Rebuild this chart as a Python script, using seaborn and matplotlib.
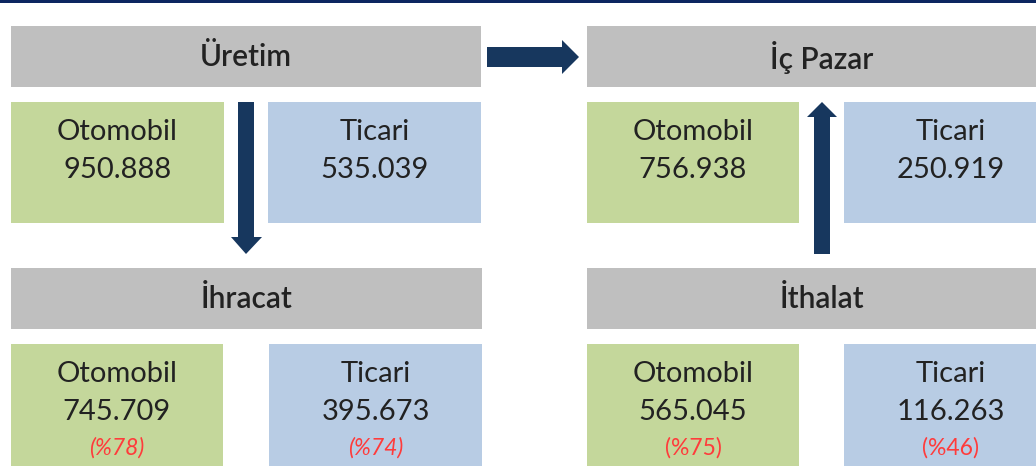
import matplotlib.pyplot as plt
import seaborn as sns
from matplotlib.patches import Rectangle, Polygon

# Data
sections = ['Üretim', 'İç Pazar', 'İhracat', 'İthalat']
categories = ['Otomobil', 'Ticari']
otomobil = [950888, 756938, 745709, 565045]
ticari = [535039, 250919, 395673, 116263]
otomobil_share = [None, None, 78, 75]
ticari_share = [None, None, 74, 46]

sns.set_theme(style='white')
plt.rcParams['font.family'] = ['Lato', 'DejaVu Sans']

GRAY = '#bfbfbf'
GREEN = '#c4d79b'
BLUE = '#b8cce4'
NAVY = '#17375e'
RED = '#ff3b3b'
TXT = '#222222'


def fmt(v):
    return f'{v:,}'.replace(',', '.')


fig = plt.figure(figsize=(10.36, 4.67), dpi=100)
ax = fig.add_axes([0, 0, 1, 1])
ax.set_xlim(0, 1036)
ax.set_ylim(467, 0)
ax.axis('off')

# top rule
ax.add_patch(Rectangle((0, 0), 1036, 3, color='#0c2660', lw=0))

# layout: (x0 of block, header top, box top, box bottom, green right, blue left, block right)
blocks = [
    (11, 26, 102, 223, 224, 268, 481),
    (587, 26, 102, 223, 799, 844, 1057),
    (11, 268, 344, 466, 223, 269, 482),
    (587, 268, 344, 466, 799, 844, 1057),
]

for i, (x0, hy, by0, by1, gx1, bx0, x1) in enumerate(blocks):
    ax.add_patch(Rectangle((x0, hy), x1 - x0, 61, color=GRAY, lw=0))
    ax.text((x0 + x1) / 2, hy + 31, sections[i], ha='center', va='center',
            fontsize=21.5, fontweight='semibold', color=TXT)
    ax.add_patch(Rectangle((x0, by0), gx1 - x0, by1 - by0, color=GREEN, lw=0))
    ax.add_patch(Rectangle((bx0, by0), x1 - bx0, by1 - by0, color=BLUE, lw=0))
    cols = [((x0 + gx1) / 2, otomobil[i], otomobil_share[i]),
            ((bx0 + x1) / 2, ticari[i], ticari_share[i])]
    for (cx, val, share), cat in zip(cols, categories):
        ax.text(cx, by0 + 30, cat, ha='center', va='center', fontsize=21, color=TXT)
        ax.text(cx, by0 + 68, fmt(val), ha='center', va='center', fontsize=21, color=TXT)
        if share is not None:
            ax.text(cx, by0 + 104, f'(%{share})', ha='center', va='center', fontsize=16.5,
                    color=RED, style='italic' if i == 2 else 'normal')

# arrows
ax.add_patch(Polygon([(487, 47), (562, 47), (562, 40), (579, 57), (562, 74), (562, 67), (487, 67)],
                     closed=True, color=NAVY, lw=0))
ax.add_patch(Polygon([(238, 102), (254, 102), (254, 237), (262, 237), (246, 254), (231, 237), (238, 237)],
                     closed=True, color=NAVY, lw=0))
ax.add_patch(Polygon([(814, 254), (830, 254), (830, 117), (837, 117), (822, 102), (807, 117), (814, 117)],
                     closed=True, color=NAVY, lw=0))

fig.savefig('out.png', dpi=100)
